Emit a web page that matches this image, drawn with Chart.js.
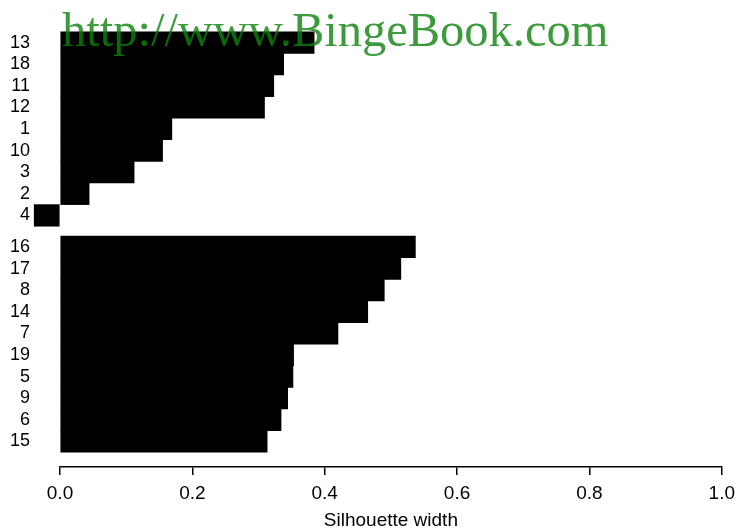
<!DOCTYPE html>
<html>
<head>
<meta charset="utf-8">
<script src="https://cdn.jsdelivr.net/npm/chart.js@4"></script>
<style>
  html, body { margin: 0; padding: 0; background: #fff; }
</style>
</head>
<body>
<canvas id="silhouette" width="742" height="532"></canvas>
<script>
// two clusters, listed top to bottom as in the plot
const cluster1Labels = ['13', '18', '11', '12', '1', '10', '3', '2', '4'];
const cluster1Widths = [0.384, 0.338, 0.323, 0.309, 0.169, 0.155, 0.112, 0.044, -0.039];
const cluster2Labels = ['16', '17', '8', '14', '7', '19', '5', '9', '6', '15'];
const cluster2Widths = [0.537, 0.515, 0.490, 0.465, 0.420, 0.353, 0.352, 0.344, 0.334, 0.313];
const xTicks = [0, 0.2, 0.4, 0.6, 0.8, 1.0];
const xTitle = 'Silhouette width';
const watermarkText = 'http://www.BingeBook.com';

const GAP = 0.46; // blank space between the clusters, in bar heights
const labels = cluster1Labels.concat(cluster2Labels);
const widths = cluster1Widths.concat(cluster2Widths);
const rows = labels.map((l, i) => i + (i >= cluster1Labels.length ? GAP : 0));

// x title centred under 0..1 and the green watermark on top
const extras = {
    id: 'extras',
    afterDraw(chart) {
        const ctx = chart.ctx;
        const x = chart.scales.x;
        ctx.save();
        ctx.fillStyle = '#000';
        ctx.font = '19px "Liberation Sans"';
        ctx.textAlign = 'center';
        ctx.textBaseline = 'middle';
        ctx.fillText(xTitle, x.getPixelForValue(0.5), 521);
        ctx.font = '48.5px "Liberation Serif"';
        ctx.textAlign = 'left';
        ctx.textBaseline = 'alphabetic';
        ctx.fillStyle = 'rgba(11, 130, 11, 0.8)';
        ctx.fillText(watermarkText, 62, 46);
        ctx.restore();
    }
};

const config = {
    type: 'bar',
    data: {
        datasets: [{
            data: widths.map((w, i) => ({x: w, y: rows[i]})),
            backgroundColor: '#000',
            borderWidth: 0,
            barPercentage: 1,
            categoryPercentage: 1,
            clip: false
        }]
    },
    options: {
        indexAxis: 'y',
        responsive: false,
        animation: false,
        layout: {padding: {top: 20, right: 16, left: 0, bottom: 0}},
        plugins: {legend: {display: false}, tooltip: {enabled: false}},
        scales: {
            x: {
                type: 'linear',
                min: 0,
                max: 1,
                afterFit: s => { s.height = 65; },
                afterBuildTicks: s => { s.ticks = xTicks.map(v => ({value: v})); },
                grid: {drawOnChartArea: false, drawTicks: true, tickLength: 8, color: '#000', lineWidth: 1.5},
                border: {display: true, color: '#000', width: 1.5},
                ticks: {
                    color: '#000',
                    font: {family: 'Liberation Sans', size: 19},
                    padding: 7,
                    maxRotation: 0,
                    autoSkip: false,
                    callback: v => Number(v).toFixed(1)
                }
            },
            y: {
                type: 'linear',
                reverse: true,
                min: -0.5,
                max: 19.1,
                afterFit: s => { s.width = 60; s.paddingTop = 0; s.paddingBottom = 0; },
                afterBuildTicks: s => { s.ticks = rows.map(v => ({value: v})); },
                grid: {display: false, drawTicks: false},
                border: {display: false},
                ticks: {
                    color: '#000',
                    font: {family: 'Liberation Sans', size: 18},
                    padding: 30,
                    autoSkip: false,
                    callback: (v, i) => labels[i]
                }
            }
        }
    },
    plugins: [extras]
};

const ctx = document.getElementById('silhouette').getContext('2d');
if (ctx !== null) {
    const myChart = new Chart(ctx, config);
}
</script>
</body>
</html>
